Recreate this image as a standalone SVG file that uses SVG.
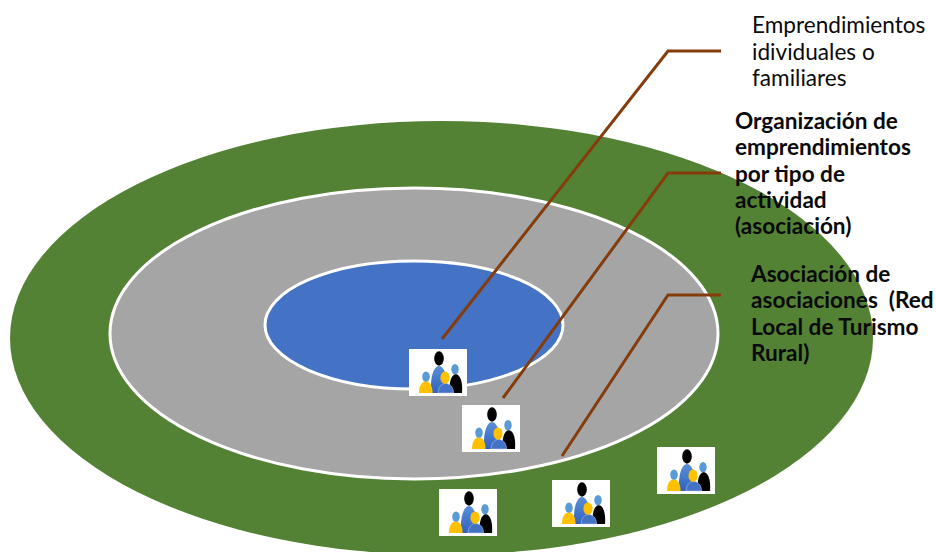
<svg xmlns="http://www.w3.org/2000/svg" width="936" height="552" viewBox="0 0 936 552">
<style>
.l{fill:none;stroke:#843C0C;stroke-width:3}
text{font-family:Lato,"Liberation Sans",sans-serif;font-size:22.6px;fill:#0a0a0a}
.b{font-weight:700}
</style>
<defs>
<linearGradient id="g" x1="0" y1="0" x2="0" y2="1"><stop offset="0" stop-color="#5B8FD3"/><stop offset="1" stop-color="#2F62C0"/></linearGradient>
<symbol id="people" width="58" height="47" viewBox="0 0 58 47" overflow="visible">
<rect width="58" height="47" fill="#fff"/>
<ellipse cx="30" cy="9.5" rx="4.8" ry="7.2" fill="#000"/>
<path d="M22.5 44C20.5 30 24.5 17 30 17S39.5 30 37.9 44Z" fill="url(#g)"/>
<ellipse cx="17" cy="27.7" rx="3.8" ry="5.2" fill="#5B9BD5"/>
<path d="M10 44C10 37 12.5 32.5 16.8 32.5S23.5 37 23.6 44Z" fill="#FFC000"/>
<ellipse cx="46" cy="20.3" rx="3.7" ry="5.2" fill="#5B9BD5"/>
<path d="M40.8 44C39.6 33 42.5 25.3 46.8 25.3S54 33 53 44Z" fill="#000"/>
<path d="M29 44C29.3 38 32.3 34.5 36.8 34.5S44.3 38 44.6 44Z" fill="#4472C4" stroke="#C5D3EE" stroke-width=".5"/>
<ellipse cx="36" cy="28.7" rx="4.6" ry="6.2" fill="#FFC000"/>
</symbol>
</defs>
<g id="outer"><ellipse cx="441.5" cy="338" rx="431.5" ry="217" fill="#548235"/></g>
<g id="middle"><ellipse cx="414" cy="333.5" rx="304" ry="145.5" fill="#A5A5A5" stroke="#fff" stroke-width="3"/></g>
<g id="inner"><ellipse cx="414" cy="325" rx="149" ry="64" fill="#4472C4" stroke="#fff" stroke-width="3"/></g>
<g id="connectors">
<polyline class="l" points="442,339 668,51 721,51"/>
<polyline class="l" points="503,398 668,173 721,173"/>
<polyline class="l" points="562,456 668,295 721,295"/>
</g>
<g id="icon1"><use href="#people" x="409" y="349"/></g>
<g id="icon2"><use href="#people" x="462" y="405"/></g>
<g id="icon3"><use href="#people" x="439" y="489"/></g>
<g id="icon4"><use href="#people" x="552" y="480"/></g>
<g id="icon5"><use href="#people" x="657" y="447"/></g>
<g id="label1">
<text x="752" y="33">Emprendimientos</text>
<text x="752" y="60">idividuales o</text>
<text x="752" y="86">familiares</text>
</g>
<g id="label2">
<text x="735" y="129" class="b">Organización de</text>
<text x="735" y="155" class="b">emprendimientos</text>
<text x="735" y="182" class="b">por tipo de</text>
<text x="735" y="208" class="b">actividad</text>
<text x="735" y="234" class="b">(asociación)</text>
</g>
<g id="label3">
<text x="751" y="282" class="b">Asociación de</text>
<text x="751" y="308" class="b" xml:space="preserve">asociaciones  (Red</text>
<text x="751" y="335" class="b">Local de Turismo</text>
<text x="751" y="361" class="b">Rural)</text>
</g>
</svg>
